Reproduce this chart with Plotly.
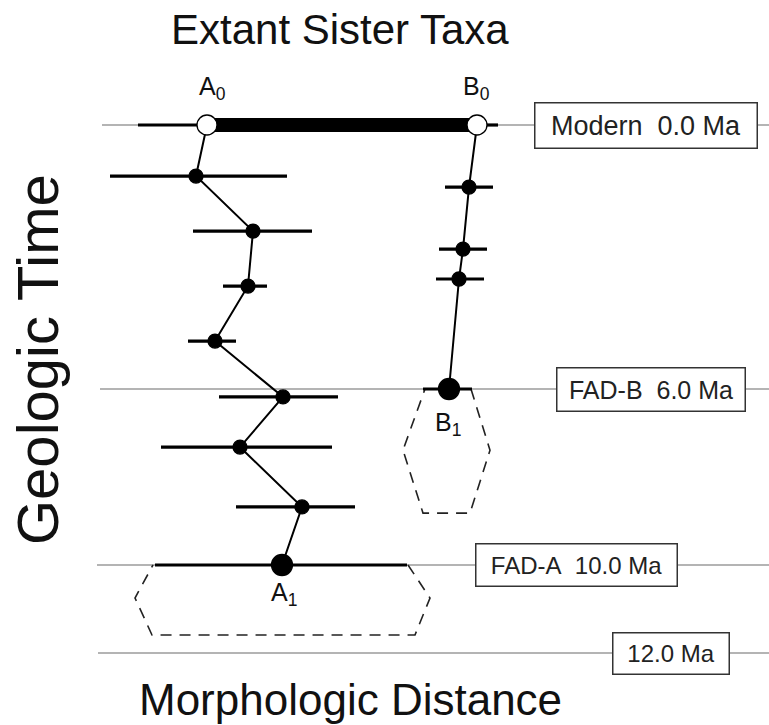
import plotly.graph_objects as go

# ---------------- data ----------------
# Taxon A lineage (time in Ma, morphology in arbitrary units)
A_time = [0.0, 1.16, 2.41, 3.66, 4.91, 6.18, 7.32, 8.68, 10.0]
A_morph = [20.7, 19.6, 25.3, 24.8, 21.5, 28.3, 24.0, 30.2, 28.2]
A_low = [13.8, 11.0, 19.3, 22.3, 18.8, 21.9, 16.1, 23.6, 15.5]
A_high = [20.7, 28.7, 31.2, 26.7, 23.6, 33.8, 33.2, 35.5, 40.7]

# Taxon B lineage
B_time = [0.0, 1.41, 2.82, 3.50, 6.0]
B_morph = [47.7, 46.9, 46.3, 45.9, 44.9]
B_low = [47.7, 44.5, 43.9, 43.6, 42.3]
B_high = [49.8, 49.3, 48.7, 48.4, 47.2]

# Uncertainty envelopes below first appearances (dashed hexagons)
A_env_morph = [40.8, 43.0, 41.5, 15.2, 13.5, 15.3]
A_env_time = [10.0, 10.75, 11.59, 11.59, 10.75, 10.0]
B_env_morph = [47.1, 49.0, 47.0, 42.3, 40.3, 42.5]
B_env_time = [6.0, 7.39, 8.82, 8.82, 7.39, 6.0]

# Reference time horizons
level_time = [0.0, 6.0, 10.0, 12.0]
level_start = [10.2, 10.0, 9.7, 9.8]
level_label = ["Modern\u00a0\u00a00.0 Ma", "FAD-B\u00a0\u00a06.0 Ma", "FAD-A\u00a0\u00a010.0 Ma", "12.0 Ma"]
level_box_x = [64.6, 65.1, 57.65, 67.1]
level_box_w = [221, 187, 200, 115]
level_box_h = [44, 42, 41, 40]
level_font = [27, 25, 24, 24]

point_labels = ["A<sub>0</sub>", "B<sub>0</sub>", "A<sub>1</sub>", "B<sub>1</sub>"]
point_label_x = [21.2, 47.6, 28.4, 44.75]
point_label_t = [-0.84, -0.84, 10.66, 6.80]

W, H = 769, 725
X_RANGE = [0, 76.9]
T_RANGE = [(725 - 125) / 44, (0 - 125) / 44]

FONT = "Liberation Sans, Arial, sans-serif"

fig = go.Figure()

# grey horizon lines
for t, x0 in zip(level_time, level_start):
    fig.add_trace(go.Scatter(x=[x0, X_RANGE[1]], y=[t, t], mode="lines",
                             line=dict(color="#b4b4b4", width=2),
                             hoverinfo="skip", showlegend=False))

# dashed envelopes
for ex, et in [(A_env_morph, A_env_time), (B_env_morph, B_env_time)]:
    fig.add_trace(go.Scatter(x=ex, y=et, mode="lines",
                             line=dict(color="#222222", width=1.6, dash="11px,8px"),
                             hoverinfo="skip", showlegend=False))

# thick bar between extant sister taxa
fig.add_trace(go.Scatter(x=[A_morph[0], B_morph[0]], y=[0, 0], mode="lines",
                         line=dict(color="black", width=14),
                         hoverinfo="skip", showlegend=False))


def lineage(xs, ts, lo, hi):
    sizes = [20] + [14] * (len(xs) - 2) + [21]
    colors = ["white"] + ["black"] * (len(xs) - 1)
    return go.Scatter(
        x=xs, y=ts, mode="lines+markers",
        line=dict(color="black", width=2),
        marker=dict(size=sizes, color=colors, opacity=1,
                    line=dict(color="black", width=1.3)),
        error_x=dict(type="data", symmetric=False,
                     array=[h - x for h, x in zip(hi, xs)],
                     arrayminus=[x - l for x, l in zip(xs, lo)],
                     color="black", thickness=3.2, width=0),
        hoverinfo="skip", showlegend=False)


fig.add_trace(lineage(A_morph, A_time, A_low, A_high))
fig.add_trace(lineage(B_morph, B_time, B_low, B_high))

annotations = []
for t, lab, bx, bw, bh, fs in zip(level_time, level_label, level_box_x,
                                  level_box_w, level_box_h, level_font):
    annotations.append(dict(x=bx, y=t, xref="x", yref="y", text=lab, showarrow=False,
                            xanchor="center", yanchor="middle",
                            font=dict(family=FONT, size=fs, color="#222222"),
                            bgcolor="white", bordercolor="#333333", borderwidth=1.5,
                            borderpad=0, width=bw, height=bh))
for lab, lx, lt in zip(point_labels, point_label_x, point_label_t):
    annotations.append(dict(x=lx, y=lt, xref="x", yref="y", text=lab, showarrow=False,
                            xanchor="center", yanchor="middle",
                            font=dict(family=FONT, size=25, color="#111111")))

annotations.append(dict(x=340 / W, y=1 - 30 / H, xref="paper", yref="paper",
                        text="Extant Sister Taxa", showarrow=False,
                        xanchor="center", yanchor="middle",
                        font=dict(family=FONT, size=42, color="#111111")))
annotations.append(dict(x=350 / W, y=1 - 699 / H, xref="paper", yref="paper",
                        text="Morphologic Distance", showarrow=False,
                        xanchor="center", yanchor="middle",
                        font=dict(family=FONT, size=44, color="#111111")))
annotations.append(dict(x=37 / W, y=1 - 360 / H, xref="paper", yref="paper",
                        text="Geologic Time", showarrow=False, textangle=-90,
                        xanchor="center", yanchor="middle",
                        font=dict(family=FONT, size=58, color="#111111")))

fig.update_layout(
    width=W, height=H,
    margin=dict(l=0, r=0, t=0, b=0),
    paper_bgcolor="white", plot_bgcolor="white",
    xaxis=dict(range=X_RANGE, visible=False, fixedrange=True),
    yaxis=dict(range=T_RANGE, visible=False, fixedrange=True),
    annotations=annotations,
    showlegend=False,
)

fig.write_html("out.html",
               config={"displayModeBar": False, "staticPlot": True},
               post_script="document.body.style.margin='0px';"
                           "document.body.style.overflow='hidden';")
